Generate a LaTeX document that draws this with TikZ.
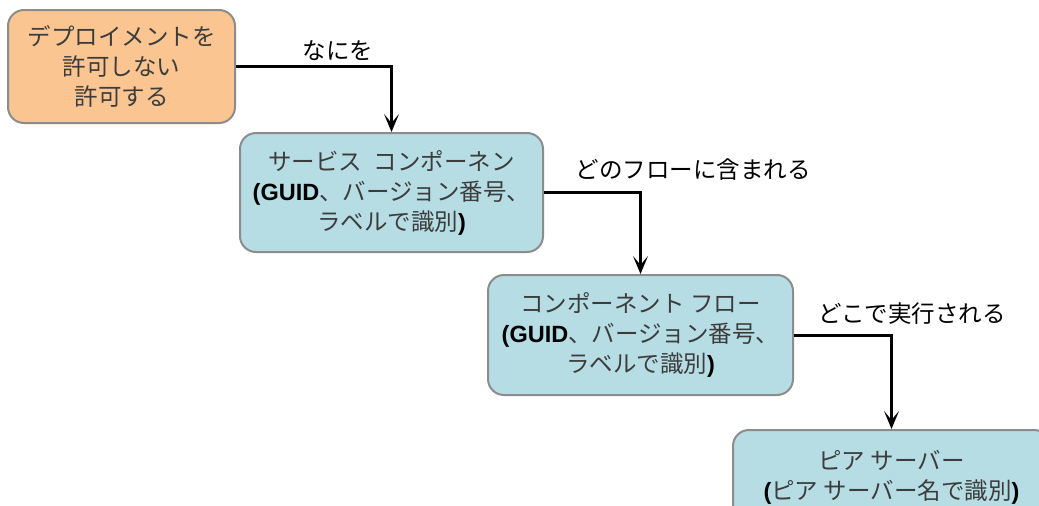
\documentclass[tikz,border=0pt]{standalone}
\usepackage{fontspec}
\setmainfont{Noto Sans CJK JP}
\newfontfamily\latinf{Liberation Sans}
\usetikzlibrary{arrows.meta}
\definecolor{boxorange}{RGB}{251,197,145}
\definecolor{boxblue}{RGB}{183,221,228}
\definecolor{boxline}{RGB}{140,140,140}
\definecolor{boxtext}{RGB}{60,60,60}
\newcommand{\lt}[1]{{\latinf\bfseries\color{black}#1}}
\begin{document}
\begin{tikzpicture}[x=1pt,y=-1pt,
  box/.style={draw=boxline, line width=2pt, rounded corners=16pt, align=center,
    inner sep=0pt, text=boxtext, font=\fontsize{23.5}{30}\selectfont},
  conn/.style={line width=3pt, -{Stealth[length=18pt,width=15pt,inset=9pt]}},
  lbl/.style={font=\fontsize{23.5}{30}\selectfont, text=black, inner sep=0pt}]
\useasboundingbox (0,0) rectangle (1039,506);
\fill[white] (0,0) rectangle (1039,506);
\clip (0,0) rectangle (1039,506);
\node[box, fill=boxorange, minimum width=227pt, minimum height=113pt] (b1) at (121.5,66.5)
  {デプロイメントを\\許可しない\\許可する};
\node[box, fill=boxblue, minimum width=303pt, minimum height=119pt] (b2) at (391.5,192.5)
  {サービス\hspace{0.5em}コンポーネン\\\lt{(GUID}、バージョン番号、\\ラベルで識別\lt{)}};
\node[box, fill=boxblue, minimum width=305pt, minimum height=120pt] (b3) at (640.5,335)
  {コンポーネント フロー\\\lt{(GUID}、バージョン番号、\\ラベルで識別\lt{)}};
\node[box, fill=boxblue, minimum width=317pt, minimum height=94pt] (b4) at (891.5,477)
  {ピア サーバー\\\lt{(}ピア サーバー名で識別\lt{)}};
\draw[conn] (b1.east) -| (b2.north);
\draw[conn] (b2.east) -| (b3.north);
\draw[conn] (b3.east) -| (b4.north);
\node[lbl] (l1) at (338,51) {なにを};
\node[lbl] (l2) at (693,170) {どのフローに含まれる};
\node[lbl] (l3) at (912,314) {どこで実行される};
\end{tikzpicture}
\end{document}
